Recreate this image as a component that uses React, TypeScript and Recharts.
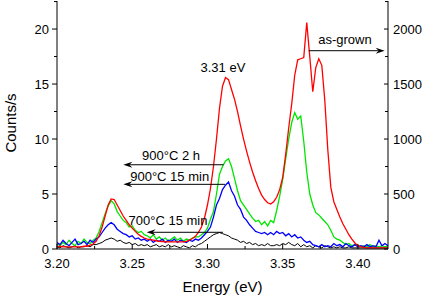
import { LineChart, Line, XAxis, YAxis, ReferenceLine, ReferenceDot } from "recharts"

// photon energy, eV
const ENERGY = [
  3.2, 3.202, 3.204, 3.206, 3.208, 3.21, 3.212, 3.214, 3.216, 3.218, 3.22,
  3.222, 3.224, 3.226, 3.228, 3.23, 3.232, 3.234, 3.236, 3.238, 3.24,
  3.242, 3.244, 3.246, 3.248, 3.25, 3.252, 3.254, 3.256, 3.258, 3.26,
  3.262, 3.264, 3.266, 3.268, 3.27, 3.272, 3.274, 3.276, 3.278, 3.28,
  3.282, 3.284, 3.286, 3.288, 3.29, 3.292, 3.294, 3.296, 3.298, 3.3,
  3.302, 3.304, 3.306, 3.308, 3.31, 3.312, 3.314, 3.316, 3.318, 3.32,
  3.322, 3.324, 3.326, 3.328, 3.33, 3.332, 3.334, 3.336, 3.338, 3.34,
  3.342, 3.344, 3.346, 3.348, 3.35, 3.352, 3.354, 3.356, 3.358, 3.36,
  3.362, 3.364, 3.366, 3.368, 3.37, 3.372, 3.374, 3.376, 3.378, 3.38,
  3.382, 3.384, 3.386, 3.388, 3.39, 3.392, 3.394, 3.396, 3.398, 3.4,
  3.402, 3.404, 3.406, 3.408, 3.41, 3.412, 3.414, 3.416, 3.418, 3.42,
]

// as-grown, right axis (counts/s)
const AS_GROWN = [
  20, 25, 20, 20, 20, 20, 20, 20, 20, 25, 25,
  35, 45, 70, 120, 200, 300, 400, 455, 450, 400,
  350, 300, 260, 220, 190, 160, 135, 115, 100, 90,
  85, 80, 75, 70, 68, 66, 65, 65, 65, 65,
  65, 66, 70, 80, 95, 115, 150, 200, 280, 400,
  550, 750, 1000, 1280, 1480, 1560, 1540, 1450, 1360, 1250,
  1120, 1000, 890, 790, 700, 620, 550, 490, 450, 420,
  410, 430, 470, 540, 650, 860, 1100, 1320, 1580, 1720,
  1730, 1740, 2060, 1750, 1430, 1650, 1730, 1670, 1350, 900,
  560, 430, 360, 290, 230, 180, 130, 90, 55, 30,
  20, 15, 10, 10, 10, 10, 10, 10, 10, 10,
]

// 900°C 2 h, left axis
const ANNEAL_900_2H = [
  0.5, 0.3, 0.6, 0.4, 0.8, 0.5, 0.3, 0.7, 0.5, 0.9, 0.6,
  0.5, 0.8, 1.0, 1.6, 2.4, 3.2, 3.9, 4.4, 4.1, 3.4,
  3.0, 2.6, 2.4, 2.0, 2.1, 1.7, 1.5, 1.6, 1.3, 1.2,
  1.0, 1.3, 0.9, 1.1, 0.8, 1.0, 0.7, 0.9, 1.1, 0.8,
  1.0, 0.7, 0.9, 0.8, 1.0, 1.1, 1.1, 1.3, 1.5, 1.9,
  2.7, 3.4, 5.0, 6.8, 7.5, 8.0, 8.2, 7.5, 6.4, 5.3,
  4.4, 4.0, 3.6, 3.2, 2.8, 2.5, 2.6, 2.2, 2.5, 2.1,
  2.6, 2.4, 3.5, 4.8, 6.3, 8.2, 10.0, 11.5, 12.4, 11.8,
  12.1, 9.8, 7.0, 5.0, 4.0, 3.3, 3.1, 2.8, 2.5, 2.2,
  1.7, 1.1, 0.9, 0.8, 0.6, 0.4, 0.5, 0.3, 0.4, 0.3,
  0.2, 0.3, 0.2, 0.4, 0.2, 0.3, 0.2, 0.3, 0.2, 0.3,
]

// 900°C 15 min, left axis
const ANNEAL_900_15M = [
  0.6, 0.4, 0.8, 0.5, 0.3, 0.6, 0.9, 0.4, 0.5, 0.7, 0.4,
  0.8, 0.6, 0.9, 1.1, 1.5, 1.9, 2.2, 2.4, 2.2, 1.8,
  1.6, 1.4, 1.3, 1.1, 1.2, 0.9, 1.0, 0.8, 0.9, 0.7,
  0.9, 0.6, 0.8, 0.7, 0.9, 0.6, 0.8, 0.7, 0.9, 0.6,
  0.8, 0.7, 0.6, 0.8, 0.7, 0.9, 0.8, 1.0, 1.3, 1.6,
  2.0, 2.9, 4.0, 4.6, 5.4, 5.8, 6.1, 5.3, 4.8, 4.0,
  3.6, 2.9, 2.6, 2.2, 1.9, 1.6, 1.5, 1.4, 1.5, 1.3,
  1.5, 1.3, 1.6, 1.4, 1.5, 1.2, 1.4, 1.1, 1.3, 1.0,
  1.1, 0.8, 0.6, 0.7, 0.4, 0.3, 0.2, 0.4, 0.2, 0.3,
  0.2, 0.5, 0.3, 0.4, 0.2, 0.5, 0.3, 0.2, 0.4, 0.2,
  0.3, 0.2, 0.4, 0.2, 0.3, 0.2, 0.8, 0.3, 0.5, 0.3,
]

// 700°C 15 min, left axis
const ANNEAL_700_15M = [
  0.2, 0.1, 0.3, 0.2, 0.1, 0.2, 0.3, 0.1, 0.2, 0.2, 0.3,
  0.2, 0.4, 0.4, 0.5, 0.6, 0.8, 0.9, 1.0, 0.9, 0.7,
  0.8, 0.6, 0.5, 0.6, 0.4, 0.5, 0.3, 0.4, 0.3, 0.4,
  0.2, 0.3, 0.4, 0.2, 0.3, 0.2, 0.4, 0.2, 0.3, 0.2,
  0.1, 0.3, 0.2, 0.1, 0.3, 0.2, 0.4, 0.5, 0.7, 0.9,
  1.1, 1.3, 1.4, 1.5, 1.4, 1.3, 1.2, 1.0, 0.9, 0.8,
  0.6, 0.7, 0.5, 0.6, 0.4, 0.5, 0.3, 0.4, 0.3, 0.5,
  0.3, 0.3, 0.4, 0.3, 0.5, 0.4, 0.6, 0.4, 0.3, 0.5,
  0.2, 0.4, 0.2, 0.3, 0.1, 0.3, 0.2, 0.1, 0.3, 0.2,
  0.1, 0.2, 0.1, 0.2, 0.1, 0.1, 0.2, 0.1, 0.1, 0.1,
  0.1, 0.1, 0.1, 0.1, 0.1, 0.1, 0.1, 0.1, 0.1, 0.1,
]

const X_TICKS = [3.2, 3.225, 3.25, 3.275, 3.3, 3.325, 3.35, 3.375, 3.4]
const LEFT_TICKS = [0, 2.5, 5, 7.5, 10, 12.5, 15, 17.5, 20, 22.5]
const RIGHT_TICKS = [0, 250, 500, 750, 1000, 1250, 1500, 1750, 2000, 2250]

// arrows: tail x -> tip x at height y, label centred at (tx, ty)
const ARROWS = [
  { text: "900°C 2 h", axis: "left", from: 3.3107, to: 3.2441, y: 7.66, tx: 3.2758, ty: 8.55 },
  { text: "900°C 15 min", axis: "left", from: 3.3117, to: 3.2441, y: 5.88, tx: 3.2749, ty: 6.64 },
  { text: "700°C 15 min", axis: "left", from: 3.3103, to: 3.2596, y: 1.52, tx: 3.2738, ty: 2.57 },
  { text: "as-grown", axis: "right", from: 3.3673, to: 3.4178, y: 1803, tx: 3.3914, ty: 1909 },
]
const PEAK_LABEL = { text: "3.31 eV", x: 3.3103, y: 1655 }

const data = ENERGY.map((e, i) => ({
  e,
  asGrown: AS_GROWN[i],
  h2: ANNEAL_900_2H[i],
  m15: ANNEAL_900_15M[i],
  m700: ANNEAL_700_15M[i],
}))

const FONT = "Arial, 'Liberation Sans', sans-serif"

const isMajor = (v: number, step: number) => Math.abs(v / step - Math.round(v / step)) < 1e-6

function LeftTick({ x, y, payload }: any) {
  const major = isMajor(payload.value, 5)
  return (
    <g>
      <line x1={x - (major ? 5 : 3)} x2={x} y1={y} y2={y} stroke="#000" />
      {major && (
        <text x={x - 8} y={y} dy="0.36em" textAnchor="end" fontSize={13} fontFamily={FONT} fill="#000">
          {payload.value}
        </text>
      )}
    </g>
  )
}

function RightTick({ x, y, payload }: any) {
  const major = isMajor(payload.value, 500)
  return (
    <g>
      <line x1={x - (major ? 4 : 3)} x2={x} y1={y} y2={y} stroke="#000" />
      {major && (
        <text x={x + 5} y={y} dy="0.36em" textAnchor="start" fontSize={13} fontFamily={FONT} fill="#000">
          {payload.value}
        </text>
      )}
    </g>
  )
}

function BottomTick({ x, y, payload }: any) {
  const major = isMajor(payload.value, 0.05)
  return (
    <g>
      <line x1={x} x2={x} y1={y} y2={y - (major ? 5 : 3)} stroke="#000" />
      {major && (
        <text x={x} y={y + 14} dy="0.36em" textAnchor="middle" fontSize={13} fontFamily={FONT} fill="#000">
          {payload.value.toFixed(2)}
        </text>
      )}
    </g>
  )
}

function Arrow({ x1, y1, x2, y2 }: any) {
  const dir = x2 > x1 ? 1 : -1
  return (
    <g>
      <line x1={x1} y1={y1} x2={x2 - dir * 6} y2={y2} stroke="#000" strokeWidth={1} />
      <polygon
        points={`${x2},${y2} ${x2 - dir * 9},${y2 - 3} ${x2 - dir * 6},${y2} ${x2 - dir * 9},${y2 + 3}`}
        fill="#000"
      />
    </g>
  )
}

const labelShape = (text: string) => (p: any) => (
  <text x={p.cx} y={p.cy} dy="0.36em" textAnchor="middle" fontSize={13} fontFamily={FONT} fill="#000">
    {text}
  </text>
)

export default function App() {
  return (
    <div style={{ position: "absolute", left: 0, top: 0, background: "#fff" }}>
      <LineChart width={436} height={301} data={data} margin={{ top: 1, right: 0, bottom: 0, left: 0 }}>
        <XAxis
          dataKey="e"
          type="number"
          domain={[3.2, 3.42]}
          ticks={X_TICKS}
          interval={0}
          tickSize={0}
          tickMargin={0}
          tickLine={false}
          tick={<BottomTick />}
          height={52}
          axisLine={{ stroke: "#000" }}
          allowDataOverflow
          label={{
            content: ({ viewBox }: any) => (
              <text
                x={viewBox.x + viewBox.width / 2}
                y={viewBox.y + 38}
                dy="0.36em"
                textAnchor="middle"
                fontSize={15}
                fontFamily={FONT}
                fill="#000"
              >
                Energy (eV)
              </text>
            ),
          }}
        />
        <YAxis
          yAxisId="left"
          orientation="left"
          width={57}
          domain={[0, 22.55]}
          ticks={LEFT_TICKS}
          interval={0}
          tickSize={0}
          tickMargin={0}
          tickLine={false}
          tick={<LeftTick />}
          axisLine={{ stroke: "#000" }}
          allowDataOverflow
          label={{
            content: ({ viewBox }: any) => {
              const cx = viewBox.x + 11
              const cy = viewBox.y + viewBox.height / 2 - 2
              return (
                <text
                  x={cx}
                  y={cy}
                  dy="0.36em"
                  textAnchor="middle"
                  transform={`rotate(-90 ${cx} ${cy})`}
                  fontSize={15}
                  fontFamily={FONT}
                  fill="#000"
                >
                  Counts/s
                </text>
              )
            },
          }}
        />
        <YAxis
          yAxisId="right"
          orientation="right"
          width={48}
          domain={[0, 2255]}
          ticks={RIGHT_TICKS}
          interval={0}
          tickSize={0}
          tickMargin={0}
          tickLine={false}
          tick={<RightTick />}
          axisLine={{ stroke: "#000" }}
          allowDataOverflow
        />
        <Line yAxisId="left" dataKey="m700" stroke="#000000" strokeWidth={1} dot={false} type="linear" isAnimationActive={false} />
        <Line yAxisId="left" dataKey="h2" stroke="#00e600" strokeWidth={1.3} dot={false} type="linear" isAnimationActive={false} />
        <Line yAxisId="left" dataKey="m15" stroke="#0000ff" strokeWidth={1.3} dot={false} type="linear" isAnimationActive={false} />
        <Line yAxisId="right" dataKey="asGrown" stroke="#ff0000" strokeWidth={1.3} dot={false} type="linear" isAnimationActive={false} />
        {ARROWS.map((a) => (
          <ReferenceLine
            key={a.text}
            yAxisId={a.axis}
            segment={[{ x: a.from, y: a.y }, { x: a.to, y: a.y }]}
            shape={(p: any) => <Arrow {...p} />}
            ifOverflow="visible"
          />
        ))}
        {ARROWS.map((a) => (
          <ReferenceDot
            key={a.text + "-t"}
            yAxisId={a.axis}
            x={a.tx}
            y={a.ty}
            r={0}
            ifOverflow="visible"
            shape={labelShape(a.text)}
          />
        ))}
        <ReferenceDot
          yAxisId="right"
          x={PEAK_LABEL.x}
          y={PEAK_LABEL.y}
          r={0}
          ifOverflow="visible"
          shape={labelShape(PEAK_LABEL.text)}
        />
      </LineChart>
    </div>
  )
}
